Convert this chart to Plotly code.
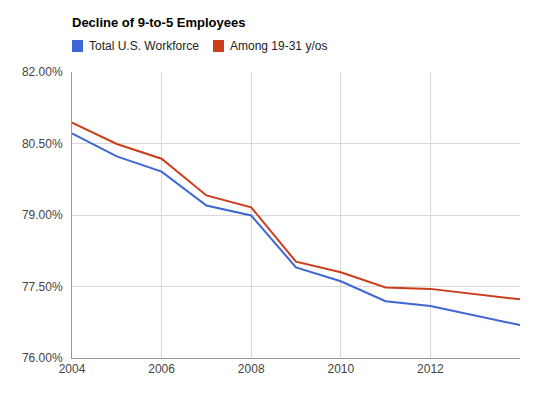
import plotly.graph_objects as go

years = [2004, 2005, 2006, 2007, 2008, 2009, 2010, 2011, 2012, 2014]
total_workforce = [80.71, 80.23, 79.91, 79.20, 78.99, 77.90, 77.61, 77.19, 77.09, 76.69]
among_19_31 = [80.94, 80.49, 80.18, 79.41, 79.16, 78.02, 77.80, 77.48, 77.45, 77.23]
series_names = ["Total U.S. Workforce", "Among 19-31 y/os"]
colors = ["#3F67D3", "#CC3D1C"]
y_ticks = [76.0, 77.5, 79.0, 80.5, 82.0]
x_ticks = [2004, 2006, 2008, 2010, 2012]

W, H = 550, 398
L, R, T, B = 72, 30, 72, 40
PW, PH = W - L - R, H - T - B

def px(x):
    return (x - L) / PW

def py(y):
    return (H - B - y) / PH

fig = go.Figure()
for name, vals, c in zip(series_names, [total_workforce, among_19_31], colors):
    fig.add_trace(go.Scatter(x=years, y=vals, mode="lines", name=name,
                             line=dict(color=c, width=2), showlegend=False))

font = "Liberation Sans, Arial, sans-serif"

# custom legend (square swatches + labels)
legend_x = [72, 213]
shapes, annotations = [], []
for name, c, lx in zip(series_names, colors, legend_x):
    shapes.append(dict(type="rect", xref="paper", yref="paper",
                       x0=px(lx), x1=px(lx + 11), y0=py(52), y1=py(40),
                       fillcolor=c, line=dict(width=0)))
    annotations.append(dict(text=name, xref="paper", yref="paper",
                            x=px(lx + 15), y=py(46), xanchor="left", yanchor="middle",
                            showarrow=False,
                            font=dict(family=font, size=12, color="#222222")))

fig.update_layout(
    width=W, height=H,
    margin=dict(l=L, r=R, t=T, b=B, autoexpand=False),
    paper_bgcolor="white", plot_bgcolor="white",
    font=dict(family=font, size=12, color="#444444"),
    title=dict(text="<b>Decline of 9-to-5 Employees</b>", x=72/W, xanchor="left",
               y=1 - 22/H, yanchor="middle",
               font=dict(family=font, size=13, color="#000000")),
    showlegend=False,
    shapes=shapes,
    annotations=annotations,
)
fig.update_xaxes(range=[2004, 2014], tickvals=x_ticks, ticktext=[str(v) for v in x_ticks],
                 showgrid=True, gridcolor="#d9d9d9", gridwidth=1,
                 showline=True, linecolor="#999999", linewidth=1, automargin=False,
                 zeroline=False, ticks="", tickfont=dict(size=12, color="#444444"))
fig.update_yaxes(range=[76, 82], tickvals=y_ticks, ticktext=[f"{v:.2f}%" for v in y_ticks],
                 showgrid=True, gridcolor="#d9d9d9", gridwidth=1,
                 showline=True, linecolor="#999999", linewidth=1, automargin=False,
                 ticklabelstandoff=6,
                 zeroline=False, ticks="", tickfont=dict(size=12, color="#444444"))

fig.write_html("out.html", config={"displayModeBar": False},
               post_script="document.body.style.margin='0px';")
